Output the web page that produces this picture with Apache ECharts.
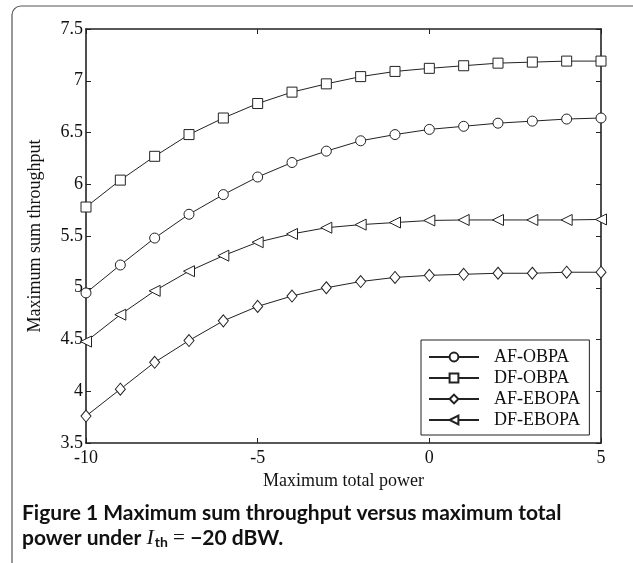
<!DOCTYPE html>
<html>
<head>
<meta charset="utf-8">
<script src="https://cdn.jsdelivr.net/npm/echarts@6/dist/echarts.min.js"></script>
<style>
html,body{margin:0;padding:0;background:#fff;}
#chart{width:633px;height:563px;}
</style>
</head>
<body>
<div id="chart"></div>
<script>
const powers = [-10, -9, -8, -7, -6, -5, -4, -3, -2, -1, 0, 1, 2, 3, 4, 5];
const afObpa  = [4.95, 5.22, 5.48, 5.71, 5.90, 6.07, 6.21, 6.32, 6.42, 6.48, 6.53, 6.56, 6.59, 6.61, 6.63, 6.64];
const dfObpa  = [5.78, 6.04, 6.27, 6.48, 6.64, 6.78, 6.89, 6.97, 7.04, 7.09, 7.12, 7.145, 7.17, 7.18, 7.19, 7.19];
const afEbopa = [3.76, 4.02, 4.28, 4.49, 4.68, 4.82, 4.92, 5.00, 5.06, 5.10, 5.12, 5.13, 5.14, 5.14, 5.15, 5.15];
const dfEbopa = [4.48, 4.74, 4.97, 5.16, 5.31, 5.44, 5.52, 5.58, 5.61, 5.63, 5.65, 5.655, 5.655, 5.655, 5.655, 5.66];
const seriesNames = ['AF-OBPA', 'DF-OBPA', 'AF-EBOPA', 'DF-EBOPA'];
const xName = 'Maximum total power';
const yName = 'Maximum sum throughput';

const serif = '"Liberation Serif", "Times New Roman", serif';
const chart = echarts.init(document.getElementById('chart'), null, {renderer: 'canvas'});

function pairs(vals){ return powers.map((p, i) => [p, vals[i]]); }
function mkSeries(name, vals, symbol, size, rotate){
  return {
    name: name, type: 'line', data: pairs(vals),
    symbol: symbol, symbolSize: size, symbolRotate: rotate || 0,
    showAllSymbol: true,
    lineStyle: {color: '#222', width: 1},
    itemStyle: {color: '#fff', borderColor: '#222', borderWidth: 1},
    emphasis: {disabled: true},
    animation: false
  };
}
function axisCommon(){
  return {
    axisLine: {show: true, onZero: false, lineStyle: {color: '#222', width: 1.6}},
    axisTick: {show: true, inside: true, length: 5, lineStyle: {color: '#222', width: 1}},
    splitLine: {show: false}
  };
}

chart.setOption({
  animation: false,
  backgroundColor: '#fff',
  grid: {left: 86, right: 32, top: 29, bottom: 120, containLabel: false},
  xAxis: [
    Object.assign({type: 'value', min: -10, max: 5, interval: 5, position: 'bottom',
      name: xName, nameLocation: 'middle', nameGap: 26,
      nameTextStyle: {fontFamily: serif, fontSize: 18, color: '#111'},
      axisLabel: {fontFamily: serif, fontSize: 18, color: '#111', margin: 6}}, axisCommon()),
    Object.assign({type: 'value', min: -10, max: 5, interval: 5, position: 'top',
      axisLabel: {show: false}}, axisCommon())
  ],
  yAxis: [
    Object.assign({type: 'value', min: 3.5, max: 7.5, interval: 0.5, position: 'left',
      name: yName, nameLocation: 'middle', nameGap: 42,
      nameTextStyle: {fontFamily: serif, fontSize: 18, color: '#111'},
      axisLabel: {fontFamily: serif, fontSize: 18, color: '#111', margin: 3}}, axisCommon()),
    Object.assign({type: 'value', min: 3.5, max: 7.5, interval: 0.5, position: 'right',
      axisLabel: {show: false}}, axisCommon())
  ],
  legend: {
    data: seriesNames, orient: 'vertical', left: 421, top: 340,
    itemWidth: 50, itemHeight: 11, itemGap: 3,
    padding: [8, 9, 6, 7],
    backgroundColor: '#fff', borderColor: '#222', borderWidth: 1, borderRadius: 0,
    textStyle: {fontFamily: serif, fontSize: 18, lineHeight: 18, color: '#111', padding: [0, 0, 0, 10]},
    selectedMode: false
  },
  series: [
    mkSeries(seriesNames[0], afObpa, 'circle', 10),
    mkSeries(seriesNames[1], dfObpa, 'rect', 10),
    mkSeries(seriesNames[2], afEbopa, 'diamond', [10, 12]),
    mkSeries(seriesNames[3], dfEbopa, 'triangle', 11, 90)
  ],
  graphic: [
    {type: 'rect', silent: true, shape: {x: 12, y: 6, width: 800, height: 800, r: 9},
     style: {fill: 'none', stroke: '#555', lineWidth: 1.2}},
    {type: 'text', silent: true, left: 22, top: 503,
     style: {text: 'Figure 1 Maximum sum throughput versus maximum total',
       font: 'bold 21px "Lato", "Open Sans", sans-serif', fill: '#111'}},
    {type: 'text', silent: true, left: 22, top: 527,
     style: {
       text: '{a|power under }{i|I}{s|th}{m| = }{a|−20 dBW.}',
       rich: {
         a: {font: 'bold 21px "Lato", "Open Sans", sans-serif', fill: '#111'},
         m: {font: '21px "Liberation Serif", serif', fill: '#111'},
         i: {font: 'italic 22px "Liberation Serif", serif', fill: '#111'},
         s: {font: 'bold 14px "Lato", sans-serif', fill: '#111', verticalAlign: 'bottom', padding: [8, 0, 0, 1]}
       }
     }}
  ]
});
</script>
</body>
</html>
